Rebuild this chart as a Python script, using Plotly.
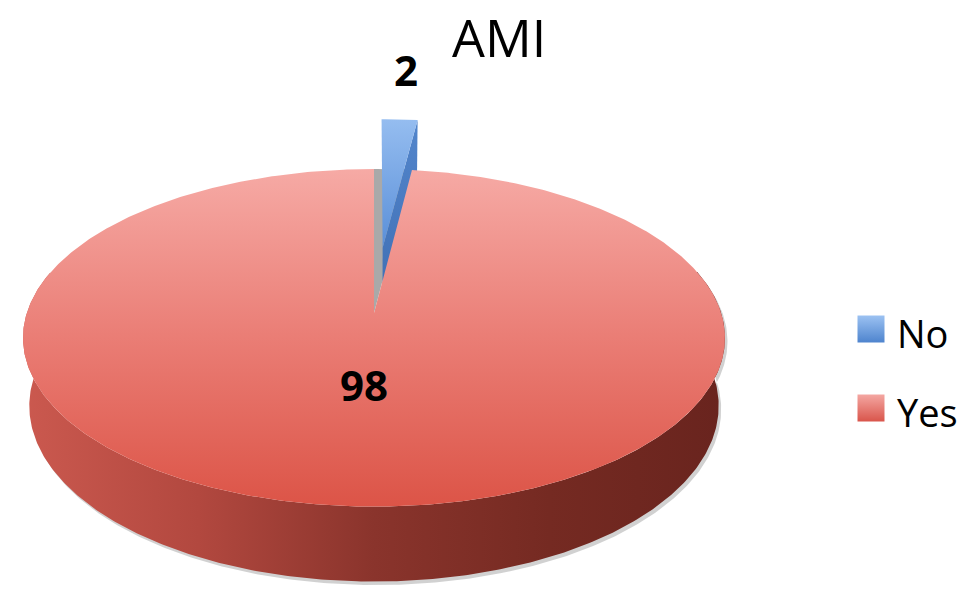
import numpy as np
import plotly.graph_objects as go

# ---- data ----
chart_title = "AMI"
categories = ["No", "Yes"]
values = [2, 98]
explode = [0.42, 0.0]          # radial pull-out of each slice (fraction of radius)

# ---- styling ----
W, H = 967, 589
CX, CY = 374, 313              # screen position of the pie centre
ELEV = np.radians(28.4)        # camera elevation
DIST = 5.98                    # camera distance (in pie radii)
THICK = 0.225                  # pie thickness (in pie radii)
HALF_WIDTH = 351               # on-screen half width of the pie

top_scales = {
    "No": [[0, "#95BDF0"], [1, "#5A8FD8"]],
    "Yes": [[0, "#F6AAA5"], [0.5, "#EA7D75"], [1, "#DC5447"]],
}
cut_scales = {"No": [[0, "#5386CC"], [1, "#3E6DB2"]]}
wall_scale = [[0, "#CB594F"], [0.25, "#B2483F"], [0.5, "#8A342C"],
              [0.75, "#752A22"], [1, "#69241E"]]
legend_colors = {"No": ("#9CC2F2", "#4E84CE"), "Yes": ("#F4A7A2", "#D9554B")}

s_e, c_e = np.sin(ELEV), np.cos(ELEV)


def _raw(X, Y, Z):
    vy = Y + DIST * c_e
    vz = Z - DIST * s_e
    depth = vy * c_e - vz * s_e
    up = vy * s_e + vz * c_e
    return X / depth, up / depth


# focal length chosen so the rim spans the requested half width
_t = np.linspace(0, 2 * np.pi, 2000)
_rx, _ = _raw(np.sin(_t), np.cos(_t), 0 * _t)
FOCAL = HALF_WIDTH / np.abs(_rx).max()


def project(X, Y, Z):
    X, Y, Z = np.broadcast_arrays(np.asarray(X, float), np.asarray(Y, float), np.asarray(Z, float))
    px, py = _raw(X, Y, Z)
    return CX + FOCAL * px, CY - FOCAL * py


# slice angles, clockwise from 12 o'clock
total = float(sum(values))
bounds = np.concatenate([[0], np.cumsum(values)]) / total * 2 * np.pi
slices = []
for i, cat in enumerate(categories):
    a0, a1 = bounds[i], bounds[i + 1]
    mid = (a0 + a1) / 2
    ox, oy = explode[i] * np.sin(mid), explode[i] * np.cos(mid)
    slices.append(dict(cat=cat, a0=a0, a1=a1, mid=mid, ox=ox, oy=oy, val=values[i]))

fig = go.Figure()


def poly(xs, ys, grad, **kw):
    fig.add_trace(go.Scatter(
        x=list(xs) + [xs[0]], y=list(ys) + [ys[0]], mode="lines", fill="toself",
        line=dict(width=0), fillgradient=grad, hoverinfo="skip", showlegend=False, **kw))


# draw back-to-front: slices whose bisector points away from the viewer first
order = sorted(slices, key=lambda d: -np.cos(d["mid"]))
for sl in order:
    a0, a1, ox, oy = sl["a0"], sl["a1"], sl["ox"], sl["oy"]
    cat = sl["cat"]
    arc = np.linspace(a0, a1, max(8, int((a1 - a0) / 0.01)))

    if sl["ox"] != 0 or sl["oy"] != 0:
        # empty footprint left behind by the pulled-out slice
        fx, fy = project(np.r_[0, np.sin(arc)], np.r_[0, np.cos(arc)], 0)
        poly(fx, fy, None, fillcolor="#A9A9A9")
        # side cut face at the end angle (faces the viewer)
        ex, ey = np.sin(a1), np.cos(a1)
        qx, qy = project([ox, ox + ex, ox + ex, ox],
                         [oy, oy + ey, oy + ey, oy],
                         [0, 0, -THICK, -THICK])
        poly(qx, qy, dict(type="vertical", colorscale=cut_scales.get(cat, top_scales[cat]),
                          start=float(qy.min()), stop=float(qy.max())))
    else:
        # visible outer wall (front half of the rim)
        front = arc[np.cos(arc) < np.cos(np.radians(75))]
        wx_t, wy_t = project(ox + np.sin(front), oy + np.cos(front), 0)
        wx_b, wy_b = project(ox + np.sin(front), oy + np.cos(front), -THICK)
        wx = np.r_[wx_t, wx_b[::-1]]
        wy = np.r_[wy_t, wy_b[::-1]]
        # soft drop shadow
        poly(wx + 2.5, wy + 3.5, None, fillcolor="rgba(90,90,90,0.28)")
        poly(wx, wy, dict(type="horizontal", colorscale=wall_scale,
                          start=float(wx.min()), stop=float(wx.max())))

    # top face
    tx, ty = project(np.r_[ox, ox + np.sin(arc)], np.r_[oy, oy + np.cos(arc)], 0)
    poly(tx, ty, dict(type="vertical", colorscale=top_scales[cat],
                      start=float(ty.min()), stop=float(ty.max())))

# value labels
label_radius = {"No": 1.89, "Yes": 0.41}
for sl in slices:
    r = label_radius[sl["cat"]]
    lx, ly = project(r * np.sin(sl["mid"]), r * np.cos(sl["mid"]), 0)
    fig.add_annotation(x=float(lx), y=float(ly), xref="x", yref="y", text=str(sl["val"]),
                       showarrow=False, xanchor="center", yanchor="middle",
                       font=dict(family="Open Sans", size=42, color="#000000", weight=700))

# legend
legend_x = 871
legend_y = [329, 408]
for cat, yy in zip(categories, legend_y):
    c_top, c_bot = legend_colors[cat]
    fig.add_trace(go.Scatter(
        x=[legend_x], y=[yy], mode="markers", hoverinfo="skip", showlegend=False,
        marker=dict(symbol="square", size=27, color=c_top,
                    gradient=dict(type="vertical", color=c_bot), line=dict(width=0))))
    fig.add_annotation(x=legend_x + 24, y=yy + 4, xref="x", yref="y", text=cat,
                       showarrow=False, xanchor="left", yanchor="middle",
                       font=dict(family="Open Sans", size=38, color="#000000"))

# chart title
fig.add_annotation(x=499, y=0, xref="x", yref="y", text=chart_title, showarrow=False,
                   xanchor="center", yanchor="top", borderpad=0,
                   font=dict(family="Open Sans", size=52, color="#000000"))

fig.update_layout(
    width=W, height=H,
    margin=dict(l=0, r=0, t=0, b=0),
    paper_bgcolor="white", plot_bgcolor="white",
    xaxis=dict(range=[0, W], visible=False, fixedrange=True),
    yaxis=dict(range=[H, 0], visible=False, fixedrange=True),
    showlegend=False,
)

fig.write_html("out.html")
